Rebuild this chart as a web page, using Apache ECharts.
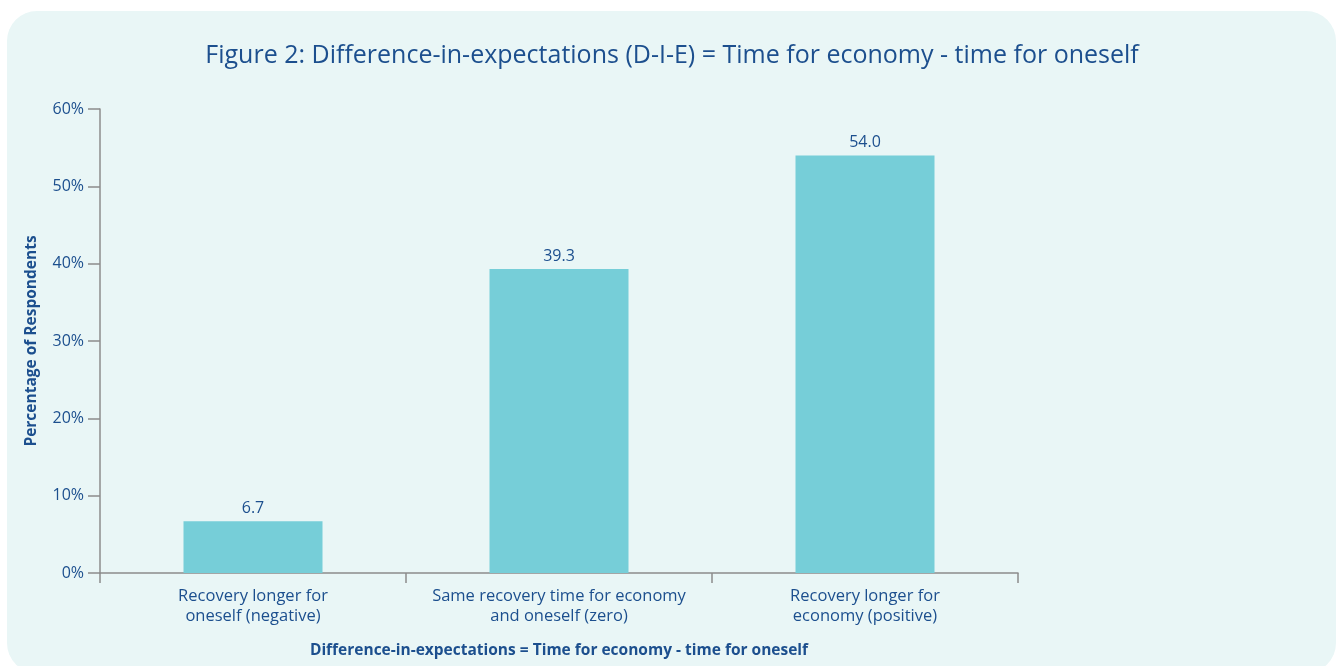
<!DOCTYPE html>
<html>
<head>
<meta charset="utf-8">
<script src="https://cdn.jsdelivr.net/npm/echarts@6/dist/echarts.min.js"></script>
<style>
html,body{margin:0;padding:0;background:#ffffff;}
#chart{width:1344px;height:666px;}
</style>
</head>
<body>
<div id="chart"></div>
<script>
const titleText = 'Figure 2: Difference-in-expectations (D-I-E) = Time for economy - time for oneself';
const categories = ['Recovery longer for\noneself (negative)', 'Same recovery time for economy\nand oneself (zero)', 'Recovery longer for\neconomy (positive)'];
const values = [6.7, 39.3, 54.0];
const yTicks = {min: 0, max: 60, interval: 10};
const yAxisName = 'Percentage of Respondents';
const xAxisName = 'Difference-in-expectations = Time for economy - time for oneself';

const blue = '#1c4f8e';
const font = 'Open Sans';
const chart = echarts.init(document.getElementById('chart'), null, {renderer: 'canvas'});
chart.setOption({
  backgroundColor: 'transparent',
  textStyle: {fontFamily: font},
  graphic: [{
    type: 'rect', z: -10, silent: true,
    shape: {x: 7, y: 11, width: 1329, height: 662, r: 30},
    style: {fill: '#e9f6f6'}
  }],
  title: {
    text: titleText, left: 'center', top: 38,
    textStyle: {color: blue, fontSize: 25, fontWeight: 'normal', fontFamily: font}
  },
  grid: {left: 100, right: 326, top: 109, bottom: 93, containLabel: false},
  xAxis: {
    type: 'category', data: categories,
    name: xAxisName, nameLocation: 'middle', nameGap: 70,
    nameTextStyle: {color: blue, fontSize: 15.5, fontWeight: 'bold', fontFamily: font},
    axisLine: {lineStyle: {color: '#8c8c8c', width: 1.5}},
    axisTick: {show: true, length: 10, lineStyle: {color: '#8c8c8c', width: 1.5}},
    axisLabel: {color: blue, fontSize: 16.5, lineHeight: 20, margin: 13, interval: 0, fontFamily: font}
  },
  yAxis: {
    type: 'value', min: yTicks.min, max: yTicks.max, interval: yTicks.interval,
    name: yAxisName, nameLocation: 'middle', nameGap: 60, nameRotate: 90,
    nameTextStyle: {color: blue, fontSize: 15.5, fontWeight: 'bold', fontFamily: font},
    axisLine: {show: true, lineStyle: {color: '#8c8c8c', width: 1.5}},
    axisTick: {show: true, length: 12, lineStyle: {color: '#8c8c8c', width: 1.5}},
    splitLine: {show: false},
    axisLabel: {color: blue, fontSize: 16, margin: 16, formatter: '{value}%', fontFamily: font}
  },
  series: [{
    type: 'bar', data: values, barWidth: 139,
    itemStyle: {color: '#76ced8'},
    label: {show: true, position: 'top', distance: 5, color: blue, fontSize: 16, fontFamily: font,
      formatter: p => p.value.toFixed(1)}
  }]
});
</script>
</body>
</html>
